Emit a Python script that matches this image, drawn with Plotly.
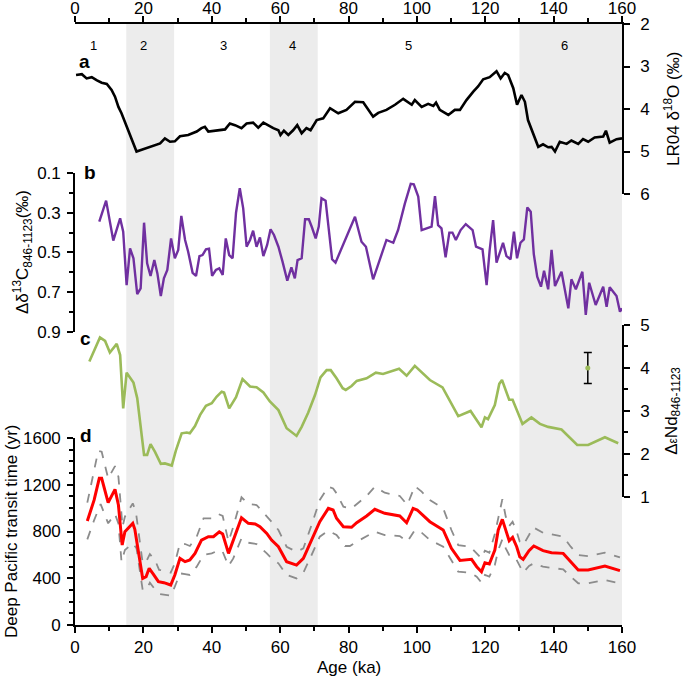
import plotly.graph_objects as go

# ---------------- data ----------------
lr04_age = [0.3,2,3.4,4.9,6.3,7.8,9.3,10.7,11.7,12.7,
            13.6,15.1,16.6,18.0,19.5,21,22.4,24.9,26.3,27.8,
            29.2,30.7,33.1,35.6,37,38,39,41.4,43.9,45.3,
            46.8,48.7,50.2,52.1,53.6,55.1,56.5,58,59.5,60.1,
            61.1,62.4,63.8,65,66.3,67.7,68.9,70.7,72.6,74.6,
            77,79.4,81.9,84.3,87.2,88.7,91.1,93.6,96,98.5,
            99.4,101.4,103.3,104.8,105.6,106.7,109.2,111.1,112.6,114.5,
            116.5,117.9,119.4,121.3,123.3,124.5,125.7,126.7,128.2,129.3,
            130.6,131.6,132.5,134,135.5,136.9,138.4,139.4,140.4,141.8,
            143.8,145.2,147.2,148.6,150.1,152,154.5,155.3,156.4,158.4,160]
lr04_d18o = [3.2,3.18,3.28,3.25,3.32,3.38,3.41,3.55,3.71,3.95,
             4.1,4.42,4.73,5.0,4.96,4.92,4.87,4.81,4.69,4.77,
             4.76,4.64,4.61,4.53,4.45,4.42,4.53,4.5,4.48,4.34,
             4.38,4.45,4.34,4.32,4.44,4.32,4.39,4.45,4.5,4.61,
             4.51,4.61,4.5,4.38,4.57,4.45,4.5,4.26,4.22,3.98,
             4.1,4.02,3.83,3.84,4.18,4.09,4.02,3.9,3.76,3.9,
             3.79,3.95,3.88,3.93,3.85,4.02,4.14,4.02,4.02,3.79,
             3.59,3.47,3.3,3.25,3.11,3.28,3.15,3.2,3.51,3.9,
             3.67,3.83,4.26,4.57,4.89,4.83,4.9,4.89,5.0,4.77,
             4.82,4.74,4.82,4.71,4.77,4.67,4.65,4.51,4.79,4.71,4.69]

d13c_age = [7.1,9.1,11.2,13.2,14.1,15.1,16.1,17.1,18.2,19.2,
            20.2,21.1,22.1,23.2,24.1,25.1,26,27,28.1,29.2,
            30.2,31.1,32.2,33.1,34.4,35.4,36.4,37.3,38.3,39.2,
            40.1,41.2,42.2,43.2,44.1,45.1,46.1,47.1,48.2,49.2,
            50.2,51.2,52.1,53.1,54.1,55.1,56.2,57.2,58.2,59.5,
            60.7,62.1,63.3,64.3,65.1,66.3,67.3,68.4,69.3,70.4,
            71.3,72.1,73.3,74.3,75.2,76.2,77.5,79,81.9,83.8,
            85.1,87.2,89.2,91.1,93.1,94.5,96.5,98.2,99.1,100.4,
            101.4,104.3,105.3,106.2,107.2,108.4,109.5,110.4,111.4,112.8,
            114.3,116.3,117.3,119.2,120.4,121.3,122.3,123.3,125.2,126.2,
            127.4,128.4,129.3,130.3,131.3,132.3,133.3,134.2,135.2,136.3,
            137.2,138.4,139.4,140.4,142.3,144.3,145.2,146.5,148.4,149.4,
            150.4,152.3,154.5,155.5,156.4,158.4,159.4,160]
d13c_diff = [0.345,0.239,0.44,0.328,0.395,0.664,0.479,0.529,0.709,0.68,
             0.35,0.554,0.618,0.538,0.605,0.719,0.63,0.588,0.429,0.529,
             0.487,0.316,0.437,0.496,0.602,0.618,0.518,0.513,0.484,0.481,
             0.618,0.588,0.58,0.613,0.429,0.513,0.529,0.3,0.177,0.278,
             0.471,0.437,0.39,0.471,0.424,0.518,0.462,0.383,0.412,0.471,
             0.546,0.642,0.575,0.63,0.538,0.529,0.333,0.333,0.373,0.429,
             0.37,0.227,0.239,0.387,0.534,0.551,0.5,0.434,0.32,0.446,
             0.471,0.635,0.538,0.437,0.451,0.387,0.253,0.155,0.157,0.219,
             0.387,0.37,0.216,0.362,0.378,0.524,0.4,0.4,0.437,0.387,
             0.357,0.387,0.471,0.484,0.664,0.487,0.337,0.551,0.451,0.518,
             0.534,0.395,0.529,0.451,0.434,0.273,0.295,0.508,0.622,0.672,
             0.592,0.685,0.487,0.669,0.597,0.781,0.635,0.685,0.597,0.814,
             0.652,0.764,0.672,0.773,0.675,0.719,0.798,0.781]

end_age = [4.2,7.3,8.8,10.2,12.2,13.2,14.1,15.1,17.1,18.2,
           20.2,21.1,22.1,23.4,25.1,26.3,28.3,29.5,31.2,32.7,
           33.6,35.1,36.6,38.3,40.0,41.4,42.9,43.6,45.1,47.1,
           49.0,51.2,53.1,55.1,57.0,59.5,61.9,64.8,66.3,68.2,
           70.2,71.8,73.6,74.8,76.5,78.3,79.2,80.9,82.4,85.3,
           88.0,90.1,94.8,97.0,99.4,101.4,103.8,107.5,109.6,112.1,
           115.7,117.5,118.9,119.9,120.8,122.8,124.1,124.9,126.0,127.0,
           128.0,129.2,130.9,133.5,136.0,138.4,142.3,146.9,150.1,155.0,158.9]
end_diff = [4.15,4.71,4.63,4.36,4.56,4.30,3.06,3.89,3.66,3.30,
            1.98,1.98,2.23,2.05,1.77,1.78,1.73,2.08,2.48,2.50,
            2.48,2.65,2.91,3.12,3.18,3.33,3.45,3.43,3.06,3.32,
            3.74,3.57,3.55,3.43,3.22,3.02,2.60,2.42,2.63,2.96,
            3.37,3.78,3.95,3.95,3.76,3.53,3.49,3.58,3.70,3.76,
            3.89,3.86,3.98,3.82,4.05,3.89,3.72,3.55,3.24,2.88,
            3.00,2.79,2.62,2.85,2.81,3.14,3.63,3.72,3.49,3.26,
            3.26,3.02,2.70,2.85,2.70,2.63,2.57,2.21,2.21,2.39,2.25]

end_err_age = [150]
end_err_val = [4.0]
end_err_size = [0.36]

tt_age = [3.6,5.6,7.1,7.8,9.7,11.7,12.7,13.8,14.6,16.9,
          17.5,19.8,20.8,21.7,22.9,24.4,26.0,28.0,29.2,30.7,
          32.2,33.6,35.1,37.0,39.0,40.5,42.2,43.2,44.9,46.3,
          48.7,50.7,52.7,54.1,56.1,57.5,59.5,61.9,64.8,66.8,
          69.2,71.6,74.1,75.5,76.5,78.5,80.9,82.4,85.3,87.7,
          90.6,95.0,97.0,98.9,100.1,103.8,107.7,110.1,112.6,116.0,
          117.5,118.9,119.9,121.2,122.8,123.8,125.0,126.0,127.0,128.0,
          129.2,130.1,131.1,132.8,134.2,136.9,139.4,142.8,145.0,147.2,
          150.1,155.0,159.4]
tt_mean = [890,1070,1255,1255,1047,1161,1027,684,798,870,
           819,399,414,485,436,371,362,342,428,570,
           542,556,613,727,756,756,798,779,613,727,
           918,870,864,841,784,727,670,542,513,570,
           727,884,998,984,913,841,836,875,933,990,
           956,933,875,998,984,884,813,656,553,562,
           499,456,533,522,642,813,904,813,721,750,
           670,584,562,636,676,636,619,613,542,471,
           471,505,465]

tt_hi_age = [3.6,5.6,6.8,7.8,9.7,11.7,12.7,13.9,14.6,16.9,
             17.8,19.8,20.8,21.9,23.4,24.6,26.3,28.0,29.2,30.7,
             32.2,33.6,35.6,37.6,40.0,41.9,43.2,44.9,46.3,48.7,
             50.7,53.1,56.1,57.5,59.5,61.9,64.8,66.8,69.2,71.6,
             74.1,75.5,76.5,78.5,80.9,85.3,87.7,90.6,95.0,97.2,
             99.4,101.4,103.8,107.7,110.1,112.1,115.6,117.5,118.9,119.9,
             121.2,122.8,123.8,125.0,126.0,127.0,128.0,129.2,130.1,131.1,
             132.8,134.0,136.9,142.8,145.0,147.2,150.1,155.0,159.4]
tt_hi = [1047,1326,1491,1483,1255,1360,1269,841,927,1041,
         970,528,542,607,556,471,465,448,528,699,
         693,676,756,913,913,950,933,713,841,1093,
         1035,1027,933,884,813,670,627,656,856,1070,
         1183,1169,1127,1012,998,1104,1183,1132,1104,1027,
         1189,1141,1070,998,813,684,670,613,570,636,
         619,779,927,1076,927,847,884,798,713,684,
         770,836,790,756,670,599,590,619,579]

tt_lo_age = [3.6,5.6,7.5,9.7,11.7,12.7,13.6,14.6,16.9,18.0,
             19.8,20.9,21.9,23.4,24.9,26.3,28.0,29.2,30.7,32.2,
             33.6,35.6,37.6,40.0,42.2,43.2,44.9,46.3,48.7,50.7,
             53.1,56.1,57.5,59.5,61.9,64.8,66.8,69.2,71.6,74.1,
             76.5,79.0,80.4,82.4,85.3,87.7,90.6,95.0,97.2,99.4,
             101.4,103.8,107.7,110.1,112.1,115.6,117.5,118.9,119.9,121.2,
             122.8,123.8,125.0,126.0,127.0,128.7,130.1,131.1,132.8,134.2,
             136.9,142.8,145.0,147.2,150.1,155.0,159.4]
tt_lo = [733,898,1035,870,950,870,542,642,699,656,
         299,305,362,305,265,257,251,328,442,436,
         428,499,599,613,642,627,505,570,742,704,
         693,613,570,528,428,399,448,599,756,807,
         770,676,676,713,761,798,770,761,713,813,
         790,727,670,556,456,448,414,362,428,414,
         513,642,733,656,599,584,499,448,505,528,
         499,476,414,357,357,385,357]

glacial_start = [15, 57, 130]
glacial_end = [29, 71, 160]
mis_labels = ["1", "2", "3", "4", "5", "6"]
mis_age = [5.3, 19.9, 43.3, 63.7, 97.5, 143.3]

# ---------------- figure ----------------
FONT = "Liberation Sans, Arial, sans-serif"
PURPLE = "#7030a0"
GREEN = "#9bbb59"

fig = go.Figure()

fig.add_trace(go.Scatter(x=lr04_age, y=lr04_d18o, xaxis="x2", yaxis="y4", mode="lines",
                         line=dict(color="black", width=2.6), showlegend=False, hoverinfo="skip"))
fig.add_trace(go.Scatter(x=d13c_age, y=d13c_diff, xaxis="x", yaxis="y3", mode="lines",
                         line=dict(color=PURPLE, width=2.4), showlegend=False))
fig.add_trace(go.Scatter(x=end_age, y=end_diff, xaxis="x", yaxis="y2", mode="lines",
                         line=dict(color=GREEN, width=2.6), showlegend=False))
fig.add_trace(go.Scatter(x=end_err_age, y=end_err_val, xaxis="x", yaxis="y2", mode="markers",
                         marker=dict(color=GREEN, size=5),
                         error_y=dict(type="data", array=end_err_size, color="black",
                                      thickness=1.5, width=4),
                         showlegend=False))
fig.add_trace(go.Scatter(x=tt_hi_age, y=tt_hi, xaxis="x", yaxis="y", mode="lines",
                         line=dict(color="#8c8c8c", width=1.8, dash="dash"), showlegend=False))
fig.add_trace(go.Scatter(x=tt_lo_age, y=tt_lo, xaxis="x", yaxis="y", mode="lines",
                         line=dict(color="#8c8c8c", width=1.8, dash="dash"), showlegend=False))
fig.add_trace(go.Scatter(x=tt_age, y=tt_mean, xaxis="x", yaxis="y", mode="lines",
                         line=dict(color="#ff0000", width=3), showlegend=False))

for s, e in zip(glacial_start, glacial_end):
    fig.add_shape(type="rect", xref="x", yref="paper", x0=s, x1=e, y0=0, y1=1,
                  fillcolor="#ececec", line=dict(width=0), layer="below")

tickfont = dict(family=FONT, size=17, color="black")
common = dict(showline=True, linecolor="black", linewidth=1.6, ticks="outside",
              ticklen=6, tickwidth=1.6, tickcolor="black", showgrid=False,
              zeroline=False, tickfont=tickfont, automargin=False)
minor_common = dict(ticks="outside", ticklen=4, tickwidth=1.6, tickcolor="black", showgrid=False)

fig.update_layout(
    width=685, height=679,
    margin=dict(l=75, r=63, t=24, b=54, autoexpand=False),
    paper_bgcolor="white", plot_bgcolor="rgba(0,0,0,0)",
    font=dict(family=FONT, size=17, color="black"),
    xaxis=dict(domain=[0, 1], range=[0, 160], anchor="y", tick0=0, dtick=20,
               minor=dict(dtick=10, **minor_common), **common),
    xaxis2=dict(overlaying="x", side="top", anchor="y4", range=[0, 160], tick0=0, dtick=20,
                ticklabelstandoff=-5,
                minor=dict(dtick=10, **minor_common), **common),
    yaxis=dict(domain=[0, 0.3111], range=[0, 1600], anchor="x", side="left", tick0=0, dtick=400,
               ticklabelstandoff=3,
               minor=dict(dtick=100, **minor_common), **common),
    yaxis2=dict(domain=[0.2130, 0.4992], range=[1, 5], anchor="x", side="right", tick0=1, dtick=1,
                ticklabelstandoff=7,
                minor=dict(dtick=0.5, **minor_common), **common),
    yaxis3=dict(domain=[0.4875, 0.7521], range=[0.9, 0.1], anchor="x", side="left", tick0=0.1, dtick=0.2,
                ticklabelstandoff=3,
                minor=dict(tick0=0, dtick=0.1, **minor_common), **common),
    yaxis4=dict(domain=[0.7171, 1], range=[6, 2], anchor="x", side="right", tick0=2, dtick=1,
                ticklabelstandoff=7, **common),
)

ann = []
def A(text, x, y, size=17, bold=False, angle=0, xref="paper", yref="paper"):
    ann.append(dict(text=("<b>%s</b>" % text) if bold else text, x=x, y=y, xref=xref, yref=yref,
                    showarrow=False, textangle=angle, xanchor="center", yanchor="middle",
                    font=dict(family=FONT, size=size, color="black")))

A("Deep Pacific transit time (yr)", -0.1170, 0.1564, angle=-90)
A("Δδ<sup>13</sup>C<sub>846-1123</sub>(‰)", -0.0969, 0.6206, angle=-90)
A("LR04 δ<sup>18</sup>O (‰)", 1.0914, 0.8586, angle=-90)
A("Δ<span style='font-size:12px'>ε</span>Nd<sub>846-1123</sub>", 1.0930, 0.3561, angle=-90)
A("Age (ka)", 0.5, -0.0715)
A("a", 0.0165, 0.9384, size=19, bold=True)
A("b", 0.0274, 0.7537, size=19, bold=True)
A("c", 0.0201, 0.4775, size=19, bold=True)
A("d", 0.0201, 0.3145, size=19, bold=True)
for lab, ag in zip(mis_labels, mis_age):
    A(lab, ag, 0.965, size=13, xref="x")
fig.update_layout(annotations=ann)

fig.write_html("out.html", config={"displayModeBar": False},
               post_script="document.body.style.margin='0';")
